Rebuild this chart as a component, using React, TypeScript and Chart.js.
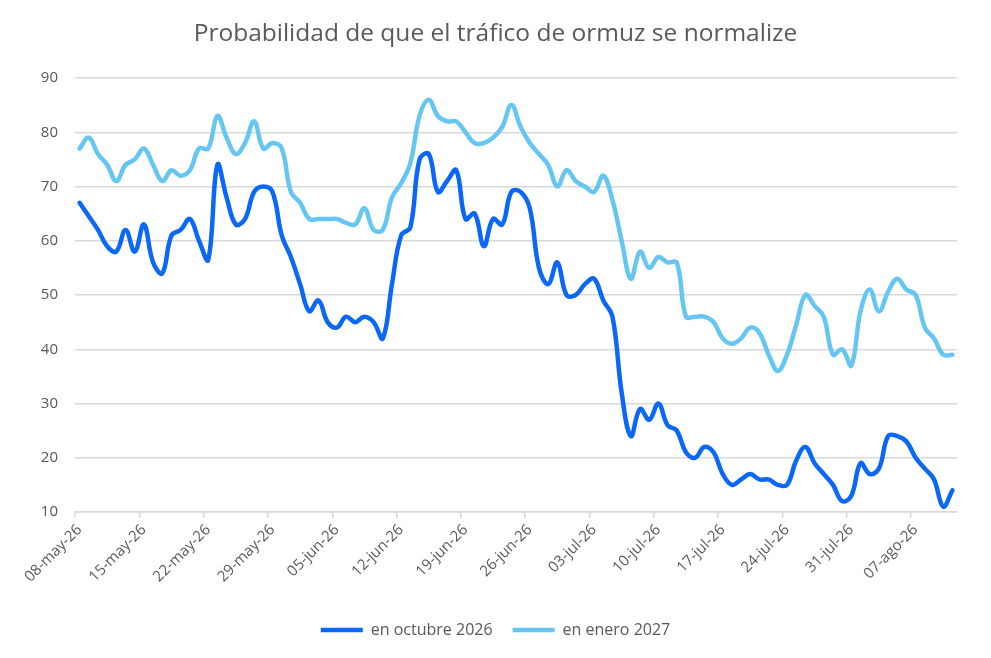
import { useEffect, useRef } from 'react';
import Chart from 'chart.js/auto';

// fechas diarias del 08-may-26 al 11-ago-26
const categories = [
  '08-may-26', '09-may-26', '10-may-26', '11-may-26', '12-may-26', '13-may-26', '14-may-26',
  '15-may-26', '16-may-26', '17-may-26', '18-may-26', '19-may-26', '20-may-26', '21-may-26',
  '22-may-26', '23-may-26', '24-may-26', '25-may-26', '26-may-26', '27-may-26', '28-may-26',
  '29-may-26', '30-may-26', '31-may-26', '01-jun-26', '02-jun-26', '03-jun-26', '04-jun-26',
  '05-jun-26', '06-jun-26', '07-jun-26', '08-jun-26', '09-jun-26', '10-jun-26', '11-jun-26',
  '12-jun-26', '13-jun-26', '14-jun-26', '15-jun-26', '16-jun-26', '17-jun-26', '18-jun-26',
  '19-jun-26', '20-jun-26', '21-jun-26', '22-jun-26', '23-jun-26', '24-jun-26', '25-jun-26',
  '26-jun-26', '27-jun-26', '28-jun-26', '29-jun-26', '30-jun-26', '01-jul-26', '02-jul-26',
  '03-jul-26', '04-jul-26', '05-jul-26', '06-jul-26', '07-jul-26', '08-jul-26', '09-jul-26',
  '10-jul-26', '11-jul-26', '12-jul-26', '13-jul-26', '14-jul-26', '15-jul-26', '16-jul-26',
  '17-jul-26', '18-jul-26', '19-jul-26', '20-jul-26', '21-jul-26', '22-jul-26', '23-jul-26',
  '24-jul-26', '25-jul-26', '26-jul-26', '27-jul-26', '28-jul-26', '29-jul-26', '30-jul-26',
  '31-jul-26', '01-ago-26', '02-ago-26', '03-ago-26', '04-ago-26', '05-ago-26', '06-ago-26',
  '07-ago-26', '08-ago-26', '09-ago-26', '10-ago-26', '11-ago-26',
];

const octubre2026 = [
  67, 64.5, 62, 59, 58, 62, 58, 63, 56, 54, 61, 62, 64, 60,
  56.5, 74, 68, 63, 64, 69, 70, 69, 61, 57, 52, 47, 49, 45,
  44, 46, 45, 46, 45, 42, 52, 61, 62.5, 75, 76, 69, 71, 73,
  64, 65, 59, 64, 63, 69, 69, 66, 55, 52, 56, 50, 50, 52,
  53, 49, 46, 32, 24, 29, 27, 30, 26, 25, 21, 20, 22, 21,
  17, 15, 16, 17, 16, 16, 15, 15, 19.5, 22, 19, 17, 15, 12,
  13, 19, 17, 18, 24, 24, 23, 20, 18, 16, 11, 14,
];

const enero2027 = [
  77, 79, 76, 74, 71, 74, 75, 77, 74, 71, 73, 72, 73, 77,
  77, 83, 79, 76, 78, 82, 77, 78, 77, 69, 67, 64, 64, 64,
  64, 63.3, 63, 66, 62, 62, 68, 70.6, 74.3, 83, 86, 83, 82, 82,
  80, 78, 78, 79, 81, 85, 81, 78, 76, 74, 70, 73, 71, 70,
  69, 72, 67.5, 60, 53, 58, 55, 57, 56, 56, 46, 46, 46, 45,
  42, 41, 42, 44, 43, 39, 36, 39, 44.5, 50, 48, 46, 39, 40,
  37, 47, 51, 47, 50.6, 53, 51, 50, 44, 42, 39, 39,
];

const yMin = 10;
const yMax = 90;
const yStep = 10;
const labelEvery = 7;

const gray = '#595959';
const gridGray = '#d9d9d9';
const font = 'Open Sans';

export default function App() {
  const chartRef = useRef<HTMLCanvasElement>(null);

  useEffect(() => {
    const ctx = chartRef.current?.getContext('2d');
    if (!ctx) return;

    const chart = new Chart(ctx, {
      type: 'line',
      data: {
        labels: categories,
        datasets: [
          {
            label: 'en octubre 2026',
            data: octubre2026,
            borderColor: '#0A67F7',
            backgroundColor: '#0A67F7',
            borderWidth: 4.5,
            borderCapStyle: 'round',
            borderJoinStyle: 'round',
            pointRadius: 0,
            tension: 0.4,
          },
          {
            label: 'en enero 2027',
            data: enero2027,
            borderColor: '#65C6F4',
            backgroundColor: '#65C6F4',
            borderWidth: 4.5,
            borderCapStyle: 'round',
            borderJoinStyle: 'round',
            pointRadius: 0,
            tension: 0.4,
          },
        ],
      },
      options: {
        responsive: true,
        maintainAspectRatio: false,
        animation: false,
        layout: { padding: { left: 0, right: 0, top: 0, bottom: 10 } },
        plugins: {
          title: {
            display: true,
            text: 'Probabilidad de que el tráfico de ormuz se normalize',
            color: gray,
            font: { family: font, size: 24.5, weight: 'normal' },
            padding: { top: 19, bottom: 29.6 },
          },
          legend: {
            position: 'bottom',
            labels: {
              usePointStyle: true,
              pointStyle: 'line',
              pointStyleWidth: 42,
              color: gray,
              font: { family: font, size: 16 },
              padding: 20,
            },
          },
          tooltip: { enabled: false },
        },
        scales: {
          x: {
            offset: true,
            grid: {
              offset: true,
              drawOnChartArea: false,
              drawTicks: true,
              tickLength: 6,
              lineWidth: 1.5,
              color: (c) => (c.index % labelEvery === 0 ? gridGray : 'rgba(0,0,0,0)'),
            },
            border: { color: gridGray, width: 1.5 },
            ticks: {
              autoSkip: false,
              minRotation: 45,
              maxRotation: 45,
              color: gray,
              font: { family: font, size: 15 },
              callback: (_v, i) => (i % labelEvery === 0 ? categories[i] : ''),
            },
            afterFit: (scale) => {
              scale.height = 90;
            },
          },
          y: {
            min: yMin,
            max: yMax,
            ticks: {
              stepSize: yStep,
              color: gray,
              font: { family: font, size: 15 },
              padding: 17,
            },
            grid: { color: gridGray, lineWidth: 1.5, drawTicks: false },
            border: { display: false },
            afterFit: (scale) => {
              scale.width = 75;
            },
          },
          // eje vacío a la derecha: solo reserva el margen
          yRight: {
            type: 'linear',
            position: 'right',
            grid: { display: false },
            border: { display: false },
            ticks: { display: false },
            afterFit: (scale) => {
              scale.width = 34;
            },
          },
        },
      },
    });

    return () => {
      chart.destroy();
    };
  }, []);

  return (
    <div style={{ position: 'fixed', left: 0, top: 0, width: 991, height: 658, background: '#fff' }}>
      <canvas ref={chartRef}></canvas>
    </div>
  );
}
